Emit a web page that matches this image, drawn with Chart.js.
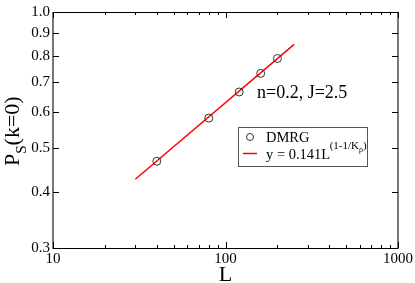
<!DOCTYPE html>
<html><head><meta charset="utf-8">
<script src="https://cdn.jsdelivr.net/npm/chart.js@4"></script>
<style>html,body{margin:0;padding:0;background:#fff;}canvas{display:block;}</style>
</head><body>
<canvas id="c" width="415" height="283"></canvas>
<script>
const L = [40, 80, 120, 160, 200];
const PS = [0.467, 0.582, 0.665, 0.731, 0.789];
const fitL = [30, 250];
const fitY = [0.426, 0.848];
const xTicks = [10,20,30,40,50,60,70,80,90,100,200,300,400,500,600,700,800,900,1000];
const xLabels = [10, 100, 1000];
const yTicks = [0.3,0.4,0.5,0.6,0.7,0.8,0.9,1.0];
const seriesNames = ['DMRG', 'y = 0.141L'];
const annotation = 'n=0.2, J=2.5';
const SERIF = '"Liberation Serif", "DejaVu Serif", serif';

const deco = {
  id: 'deco',
  afterDraw(chart) {
    const ctx = chart.ctx, a = chart.chartArea;
    const xs = chart.scales.x, ys = chart.scales.y;
    ctx.save();
    // frame
    ctx.strokeStyle = '#000'; ctx.lineWidth = 1;
    ctx.beginPath();
    ctx.moveTo(a.left, a.top + 0.5); ctx.lineTo(a.right, a.top + 0.5);
    ctx.moveTo(a.left, a.bottom + 0.5); ctx.lineTo(a.right, a.bottom + 0.5);
    ctx.stroke();
    ctx.strokeStyle = '#777'; ctx.lineWidth = 2;
    ctx.beginPath();
    ctx.moveTo(a.left, a.top); ctx.lineTo(a.left, a.bottom + 1);
    ctx.moveTo(a.right, a.top); ctx.lineTo(a.right, a.bottom + 1);
    ctx.stroke();
    // ticks
    ctx.strokeStyle = '#000'; ctx.lineWidth = 1;
    ctx.beginPath();
    xTicks.forEach(v => {
      const px = Math.round(xs.getPixelForValue(v)) + 0.5;
      const len = xLabels.includes(v) ? 6 : 3;
      ctx.moveTo(px, a.bottom); ctx.lineTo(px, a.bottom - len);
      ctx.moveTo(px, a.top); ctx.lineTo(px, a.top + len);
    });
    yTicks.forEach(v => {
      const py = Math.round(ys.getPixelForValue(v)) + 0.5;
      ctx.moveTo(a.left, py); ctx.lineTo(a.left + 6, py);
      ctx.moveTo(a.right, py); ctx.lineTo(a.right - 6, py);
    });
    ctx.stroke();
    // annotation
    ctx.fillStyle = '#000';
    ctx.textBaseline = 'alphabetic'; ctx.textAlign = 'left';
    ctx.font = '18px ' + SERIF;
    ctx.fillText(annotation, 257, 98);
    // legend box
    ctx.strokeStyle = '#555'; ctx.lineWidth = 1;
    ctx.strokeRect(238.5, 127.5, 129, 39);
    ctx.strokeStyle = '#333';
    ctx.beginPath(); ctx.arc(250, 137, 3.5, 0, Math.PI * 2); ctx.stroke();
    ctx.strokeStyle = '#ff0000'; ctx.lineWidth = 1.5;
    ctx.beginPath(); ctx.moveTo(243, 153.5); ctx.lineTo(257, 153.5); ctx.stroke();
    ctx.font = '14.5px ' + SERIF;
    ctx.fillText(seriesNames[0], 266, 142);
    ctx.fillText(seriesNames[1], 266, 159);
    let x = 266 + ctx.measureText(seriesNames[1]).width - 0.5;
    ctx.font = '11px ' + SERIF;
    ctx.fillText('(1-1/K', x, 149); x += ctx.measureText('(1-1/K').width;
    ctx.font = '8px ' + SERIF;
    ctx.fillText('\u03c1', x, 152); x += ctx.measureText('\u03c1').width;
    ctx.font = '11px ' + SERIF;
    ctx.fillText(')', x, 149);
    // x title
    ctx.font = '22px ' + SERIF; ctx.textAlign = 'center';
    ctx.fillText('L', xs.getPixelForValue(100), 281);
    // y title
    ctx.translate(19, 166); ctx.rotate(-Math.PI / 2);
    ctx.textAlign = 'left';
    ctx.font = '22px ' + SERIF;
    ctx.fillText('P', 0, 0); let t = ctx.measureText('P').width;
    ctx.font = '15px ' + SERIF;
    ctx.fillText('S', t, 7); t += ctx.measureText('S').width;
    ctx.font = '22px ' + SERIF;
    ctx.fillText('(k=0)', t, 0);
    ctx.restore();
  }
};

new Chart(document.getElementById('c'), {
  type: 'scatter',
  data: {
    datasets: [
      { label: seriesNames[0], data: L.map((v, i) => ({x: v, y: PS[i]})),
        pointRadius: 4, pointStyle: 'circle', backgroundColor: 'rgba(0,0,0,0)',
        borderColor: '#333', borderWidth: 1, showLine: false },
      { label: seriesNames[1], data: fitL.map((v, i) => ({x: v, y: fitY[i]})),
        showLine: true, pointRadius: 0, borderColor: '#ff0000', borderWidth: 1.5 }
    ]
  },
  options: {
    responsive: false, animation: false, devicePixelRatio: 1,
    layout: { padding: { top: 6, right: 16, left: 0, bottom: 0 } },
    plugins: { legend: { display: false }, tooltip: { enabled: false } },
    scales: {
      x: {
        type: 'logarithmic', min: 10, max: 1000,
        grid: { display: false, drawTicks: false, tickLength: 0 },
        border: { display: false },
        afterBuildTicks: s => { s.ticks = xTicks.map(v => ({value: v})); },
        afterFit: s => { s.height = 35; },
        ticks: { autoSkip: false, maxRotation: 0, padding: 2, color: '#000',
          font: { family: SERIF, size: 15 },
          callback: v => xLabels.includes(v) ? String(v) : '' }
      },
      y: {
        type: 'logarithmic', min: 0.3, max: 1.0,
        grid: { display: false, drawTicks: false, tickLength: 0 },
        border: { display: false },
        afterBuildTicks: s => { s.ticks = yTicks.map(v => ({value: v})); },
        afterFit: s => { s.width = 53; },
        ticks: { autoSkip: false, padding: 3, color: '#000',
          font: { family: SERIF, size: 15 },
          callback: v => Number(v).toFixed(1) }
      }
    }
  },
  plugins: [deco]
});
</script>
</body></html>
